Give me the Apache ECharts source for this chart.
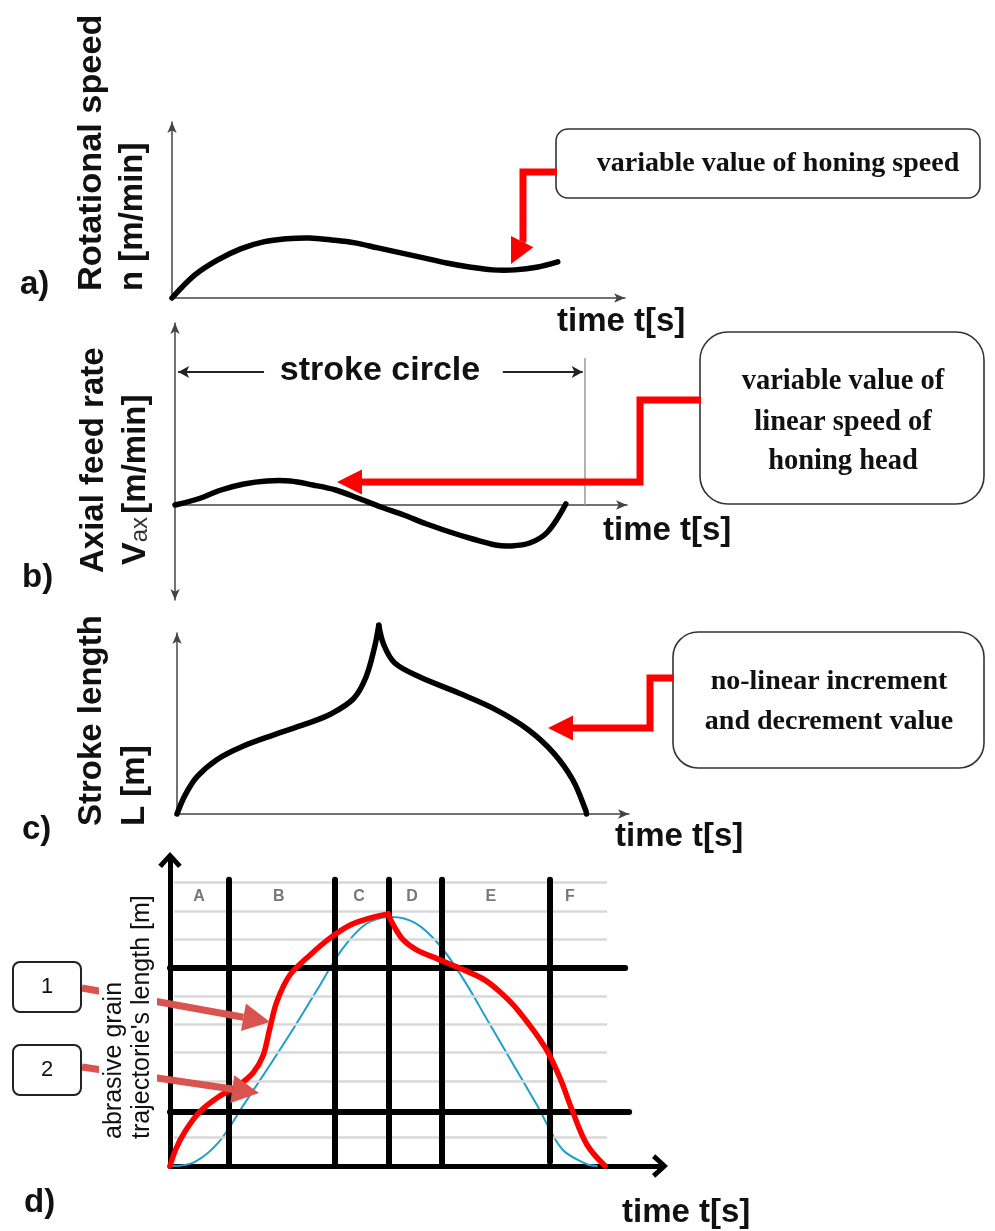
<!DOCTYPE html>
<html>
<head>
<meta charset="utf-8">
<script src="https://cdn.jsdelivr.net/npm/echarts@6/dist/echarts.min.js"></script>
<style>html,body{margin:0;padding:0;background:#fff}#c{width:995px;height:1231px}</style>
</head>
<body>
<div id="c"></div>
<script>
// ---------- DATA ----------
// a) rotational speed (time units 0..100, speed units)
const aX = [0, 5, 10, 15, 20, 25, 30, 35, 40, 45, 50, 55, 60, 65, 70, 75, 80, 84.3];
const aY = [0, 12.7, 21.0, 27.1, 30.9, 32.6, 33.1, 32.0, 30.4, 27.6, 24.9, 22.1, 19.3, 17.1, 15.5, 15.5, 17.1, 19.9];
// b) axial feed rate
const bX = [0, 5, 10.1, 15.1, 20.1, 25.2, 30.2, 35.2, 40.0, 45.1, 50.1, 55.1, 60.2, 65.2, 70.2, 73.3, 77.7, 81.6, 85.6];
const bY = [0, 0.6, 1.5, 2.1, 2.4, 2.4, 2.0, 1.5, 0.7, -0.2, -1.0, -1.9, -2.7, -3.4, -4.0, -4.1, -3.8, -2.7, 0.1];
const strokeEndX = 89.7;
// c) stroke length (rising and falling branches, meeting at the cusp)
const cRiseX = [0, 1.8, 4.4, 8.8, 14.2, 21.2, 28.2, 33.7, 38.7, 41.4, 43.3, 44.2];
const cRiseY = [0, 10.5, 20.5, 30.0, 37.0, 43.5, 49.5, 55.0, 63.5, 75.3, 92.0, 103.8];
const cFallX = [44.2, 45.3, 47.7, 53.2, 61.7, 70.0, 77.0, 82.5, 86.7, 89.5, 89.7];
const cFallY = [103.8, 93.0, 83.0, 75.3, 66.5, 57.1, 46.2, 33.5, 18.7, 2.2, 0];
// d) abrasive grain trajectory length
const dBlueX = [0.4, 5, 10, 15, 20, 25, 30, 35, 40, 45, 50, 55, 60, 65, 70, 75, 80, 85, 87.1];
const dBlueY = [0, 0.14, 0.85, 2.15, 3.46, 4.8, 6.21, 7.62, 8.54, 8.79, 8.58, 7.8, 6.56, 5.08, 3.6, 2.12, 0.6, 0.07, 0];
const dRedRiseX = [0, 1.2, 3.0, 6.0, 10.0, 14.0, 17.0, 19.0, 20.3, 21.8, 24.5, 28.6, 32.7, 36.7, 40.8, 44.5];
const dRedRiseY = [0, 0.6, 1.2, 1.9, 2.45, 2.85, 3.3, 3.9, 4.8, 5.8, 6.75, 7.45, 8.05, 8.5, 8.75, 8.9];
const dRedFallX = [44.5, 45.6, 47.6, 50.4, 54.5, 58.6, 63.9, 67.3, 71.0, 76.5, 79.6, 82.0, 85.1, 88.8];
const dRedFallY = [8.9, 8.5, 7.98, 7.62, 7.32, 7.02, 6.6, 6.15, 5.5, 4.2, 3.1, 2.0, 0.75, 0];
const phaseBounds = [12.0, 33.7, 44.7, 55.5, 77.6];
const phaseTop = 10.1;
const phaseNames = ['A', 'B', 'C', 'D', 'E', 'F'];
const phaseLabelX = [5.9, 22.2, 38.6, 49.4, 65.5, 81.6];
const phaseLabelY = 9.5;
const thickLevels = [1.9, 7.0];
const thinLevels = [1, 3, 4, 5, 6, 8, 9, 10];

// ---------- TEXT ----------
const timeLabel = 'time t[s]';
const calloutA = ['variable value of honing speed'];
const calloutB = ['variable value of', 'linear speed of', 'honing head'];
const calloutC = ['no-linear increment', 'and decrement value'];

// ---------- HELPERS ----------
const SANS = "'Liberation Sans', Arial, sans-serif";
const SERIF = "'Liberation Serif', 'Times New Roman', serif";
const CHEV = 'path://M11,0 L22,12 L18.5,15 L11,6.5 L3.5,15 L0,12 Z';
const zip = (xs, ys) => xs.map((x, i) => [x, ys[i]]);
const hid = { axisTick: { show: false }, axisLabel: { show: false }, splitLine: { show: false } };
const thin = (sym) => ({ show: true, onZero: true, lineStyle: { color: '#444', width: 1.5 }, symbol: sym, symbolSize: [7, 11] });
const thick = { show: true, lineStyle: { color: '#000', width: 5 }, symbol: ['none', CHEV], symbolSize: [24, 16] };

function arrowHead(x0, y0, x1, y1, len, half) {
  const dx = x1 - x0, dy = y1 - y0, L = Math.hypot(dx, dy);
  const ux = dx / L, uy = dy / L, nx = -uy, ny = ux;
  const bx = x1 - len * ux, by = y1 - len * uy;
  return { base: [bx, by], pts: [[x1, y1], [bx + half * nx, by + half * ny], [bx - half * nx, by - half * ny]] };
}
function fatArrow(x0, y0, x1, y1, color, w, len, half, z) {
  const h = arrowHead(x0, y0, x1, y1, len, half);
  return [
    { type: 'polyline', z: z, shape: { points: [[x0, y0], h.base] }, style: { stroke: color, lineWidth: w, fill: null } },
    { type: 'polygon', z: z, shape: { points: h.pts }, style: { fill: color } }
  ];
}
function redElbow(points, color) {
  const n = points.length;
  const p0 = points[n - 2], p1 = points[n - 1];
  const h = arrowHead(p0[0], p0[1], p1[0], p1[1], 25, 12.5);
  const pts = points.slice(0, n - 1).concat([h.base]);
  return [
    { type: 'polyline', z: 20, shape: { points: pts }, style: { stroke: color, lineWidth: 7, fill: null, lineJoin: 'miter' } },
    { type: 'polygon', z: 20, shape: { points: h.pts }, style: { fill: color } }
  ];
}
function box(x, y, w, h, r, lines, cx, ys, size) {
  const els = [{ type: 'rect', z: 10, shape: { x: x, y: y, width: w, height: h, r: r }, style: { fill: '#fff', stroke: '#333', lineWidth: 1.6 } }];
  lines.forEach((t, i) => els.push({ type: 'text', z: 11, x: cx, y: ys[i], style: { text: t, font: 'bold ' + size + 'px ' + SERIF, fill: '#111', align: 'center', verticalAlign: 'middle' } }));
  return els;
}
function vtext(x, yBottom, text, font, extra) {
  return Object.assign({ type: 'text', z: 12, x: x, y: yBottom, rotation: Math.PI / 2, style: { text: text, font: font, fill: '#111', align: 'left', verticalAlign: 'middle' } }, extra || {});
}
function htext(x, y, text, font, align) {
  return { type: 'text', z: 12, x: x, y: y, style: { text: text, font: font, fill: '#111', align: align || 'left', verticalAlign: 'middle' } };
}

// smooth curve through the data points, positioned by the axes (api.coord)
function curve(axisIdx, xs, ys, color, width, z) {
  return {
    type: 'custom', xAxisIndex: axisIdx, yAxisIndex: axisIdx, silent: true, z: z, clip: false,
    data: zip(xs, ys),
    renderItem: function (params, api) {
      if (params.dataIndex !== 0) return null;
      return {
        type: 'polyline',
        shape: { points: xs.map((x, i) => api.coord([x, ys[i]])), smooth: 0.35 },
        style: { stroke: color, lineWidth: width, fill: null, lineCap: 'round', lineJoin: 'round' }
      };
    }
  };
}

// ---------- SERIES ----------
const series = [
  curve(0, aX, aY, '#000', 5.5, 5),
  {
    type: 'line', xAxisIndex: 1, yAxisIndex: 1, data: [], silent: true,
    markLine: {
      silent: true, symbol: 'none', label: { show: false },
      lineStyle: { color: '#999', width: 1.5, type: 'solid' },
      data: [[{ coord: [strokeEndX, 0] }, { coord: [strokeEndX, 14.7] }]]
    }
  },
  curve(1, bX, bY, '#000', 5.5, 5),
  {
    type: 'line', xAxisIndex: 1, yAxisIndex: 1, data: [], silent: true,
    markLine: {
      silent: true, label: { show: false }, symbolSize: [9, 11],
      lineStyle: { color: '#222', width: 2, type: 'solid' },
      data: [
        [{ coord: [0.7, 13.3], symbol: 'arrow' }, { coord: [19.5, 13.3], symbol: 'none' }],
        [{ coord: [71.8, 13.3], symbol: 'none' }, { coord: [89.3, 13.3], symbol: 'arrow' }]
      ]
    }
  },
  curve(2, cRiseX, cRiseY, '#000', 5.5, 5),
  curve(2, cFallX, cFallY, '#000', 5.5, 5),
  // d: light grid lines
  {
    type: 'line', xAxisIndex: 3, yAxisIndex: 3, data: [], silent: true, z: 1,
    markLine: {
      silent: true, symbol: 'none', label: { show: false },
      lineStyle: { color: '#d9d9d9', width: 2.5, type: 'solid' },
      data: thinLevels.map(v => [{ coord: [0.8, v] }, { coord: [89.2, v] }])
    }
  },
  // d: blue curve
  curve(3, dBlueX, dBlueY, '#1e9fcc', 2, 2),
  // d: thick black grid
  {
    type: 'line', xAxisIndex: 3, yAxisIndex: 3, data: [], silent: true, z: 3,
    markLine: {
      silent: true, symbol: 'none', label: { show: false },
      lineStyle: { color: '#000', width: 6, type: 'solid', cap: 'round' },
      data: phaseBounds.map((v, i) => [{ coord: [v, i === phaseBounds.length - 1 ? 0.15 : 0] }, { coord: [v, phaseTop] }])
        .concat([[{ coord: [0, thickLevels[0]] }, { coord: [93.7, thickLevels[0]] }],
                 [{ coord: [0, thickLevels[1]] }, { coord: [92.9, thickLevels[1]] }]])
    }
  },
  // d: phase letters
  {
    type: 'scatter', xAxisIndex: 3, yAxisIndex: 3, symbolSize: 0, silent: true, z: 4,
    data: phaseNames.map((n, i) => ({ name: n, value: [phaseLabelX[i], phaseLabelY] })),
    label: { show: true, position: 'inside', formatter: p => p.name, color: '#555', fontSize: 16, fontWeight: 'bold', fontFamily: SANS }
  },
  // d: red curve (two branches meeting at cusp)
  curve(3, dRedRiseX, dRedRiseY, '#ff0000', 5.5, 6),
  curve(3, dRedFallX, dRedFallY, '#ff0000', 5.5, 6)
];

// ---------- ANNOTATIONS ----------
const RED = '#ff0000', SALMON = '#d9534f';
const BIG = 'bold 33px ' + SANS;
let graphic = [];
graphic = graphic
  .concat(box(556, 129, 424, 69, 12, calloutA, 778, [164], 28))
  .concat(box(700, 332, 284, 172, 28, calloutB, 843, [382, 423, 462], 28.5))
  .concat(box(673, 632, 311, 136, 25, calloutC, 829, [682, 722], 28))
  .concat(redElbow([[557, 172], [523, 172], [523, 240], [511, 264]], RED))
  .concat(redElbow([[701, 400], [640, 400], [640, 482], [337, 482]], RED))
  .concat(redElbow([[674, 678], [650, 678], [650, 728], [548, 728]], RED))
  .concat(fatArrow(82, 988, 270, 1022, SALMON, 7, 27, 14, 8))
  .concat(fatArrow(82, 1067, 259, 1093, SALMON, 7, 27, 14, 8))
  .concat([
    { type: 'rect', z: 9, shape: { x: 99, y: 876, width: 58, height: 266 }, style: { fill: '#fff' } },
    // stroke circle
    htext(380, 371, 'stroke circle', 'bold 34px ' + SANS, 'center'),
    // time labels
    htext(557, 322, timeLabel, BIG),
    htext(603, 531, timeLabel, BIG),
    htext(615, 837, timeLabel, BIG),
    htext(622, 1213, timeLabel, BIG),
    // panel letters
    htext(20, 285, 'a)', 'bold 33px ' + SANS),
    htext(22, 578, 'b)', 'bold 33px ' + SANS),
    htext(22, 830, 'c)', 'bold 33px ' + SANS),
    htext(24, 1203, 'd)', 'bold 33px ' + SANS),
    // y labels
    vtext(92, 291, 'Rotational speed', BIG, { scaleX: 1.04 }),
    vtext(133, 291, 'n [m/min]', BIG),
    vtext(94, 573, 'Axial feed rate', BIG),
    {
      type: 'text', z: 12, x: 136, y: 565, rotation: Math.PI / 2,
      style: {
        text: '{v|V}{s|ax} {m|[m/min]}', align: 'left', verticalAlign: 'middle',
        rich: {
          v: { font: 'bold 34px ' + SANS, fill: '#111' },
          s: { font: '24px ' + SANS, fill: '#333', padding: [8, 0, 0, 0] },
          m: { font: 'bold 33px ' + SANS, fill: '#111' }
        }
      }
    },
    vtext(92, 826, 'Stroke length', BIG),
    vtext(135, 826, 'L [m]', BIG),
    vtext(114, 1139, 'abrasive grain', '25px ' + SANS),
    vtext(142, 1139, "trajectorie's length [m]", '25px ' + SANS),
    // numbered boxes
    { type: 'rect', z: 10, shape: { x: 13, y: 962, width: 68, height: 50, r: 7 }, style: { fill: '#fff', stroke: '#222', lineWidth: 2 } },
    { type: 'rect', z: 10, shape: { x: 13, y: 1045, width: 68, height: 50, r: 7 }, style: { fill: '#fff', stroke: '#222', lineWidth: 2 } },
    htext(47, 987, '1', '22px ' + SANS, 'center'),
    htext(47, 1070, '2', '22px ' + SANS, 'center')
  ]);

// ---------- CHART ----------
const chart = echarts.init(document.getElementById('c'));
chart.setOption({
  animation: false,
  backgroundColor: '#fff',
  grid: [
    { left: 172, top: 122, width: 453, height: 176 },
    { left: 175, top: 323, width: 452, height: 277 },
    { left: 177, top: 633, width: 452, height: 181 },
    { left: 170, top: 860, width: 490, height: 306 }
  ],
  xAxis: [
    Object.assign({ gridIndex: 0, type: 'value', min: 0, max: 99, axisLine: thin(['none', 'arrow']) }, hid),
    Object.assign({ gridIndex: 1, type: 'value', min: 0, max: 99, axisLine: thin(['none', 'arrow']) }, hid),
    Object.assign({ gridIndex: 2, type: 'value', min: 0, max: 99, axisLine: thin(['none', 'arrow']) }, hid),
    Object.assign({ gridIndex: 3, type: 'value', min: 0, max: 100, axisLine: thick }, hid)
  ],
  yAxis: [
    Object.assign({ gridIndex: 0, type: 'value', min: 0, max: 97, axisLine: thin(['none', 'arrow']) }, hid),
    Object.assign({ gridIndex: 1, type: 'value', min: -9.5, max: 18.2, axisLine: thin(['arrow', 'arrow']) }, hid),
    Object.assign({ gridIndex: 2, type: 'value', min: 0, max: 99.5, axisLine: thin(['none', 'arrow']) }, hid),
    Object.assign({ gridIndex: 3, type: 'value', min: 0, max: 10.8, axisLine: thick }, hid)
  ],
  series: series,
  graphic: graphic
});
</script>
</body>
</html>
